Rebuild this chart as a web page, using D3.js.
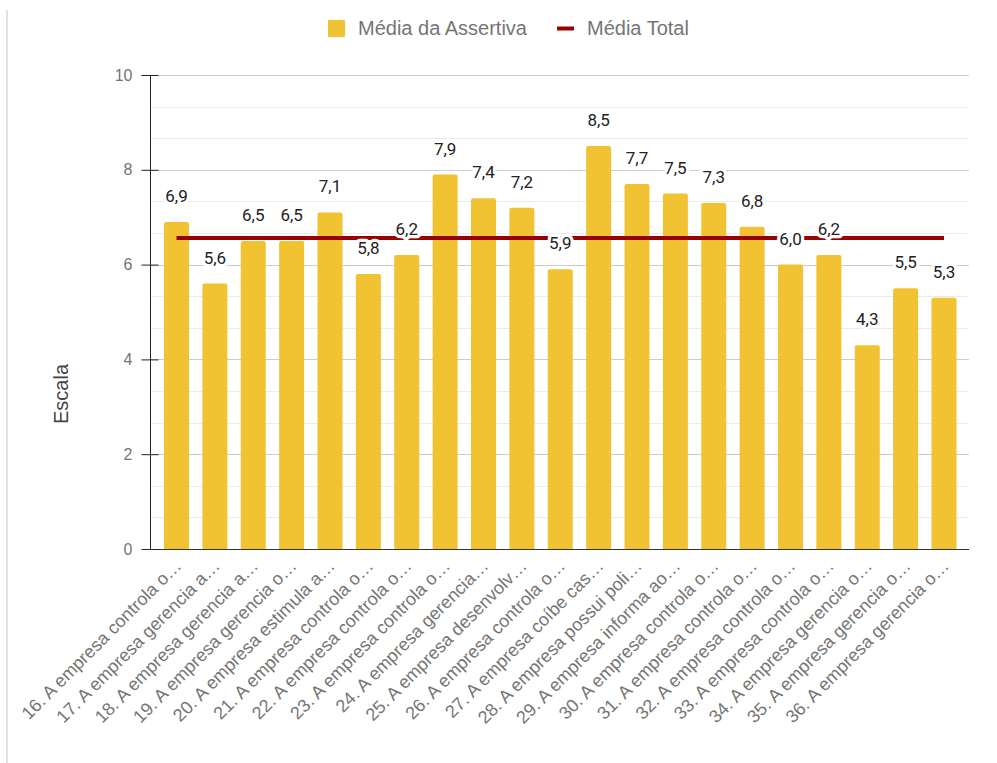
<!DOCTYPE html>
<html>
<head>
<meta charset="utf-8">
<script src="https://cdn.jsdelivr.net/npm/d3@7"></script>
<style>
  html, body { margin: 0; padding: 0; background: #fff; }
  svg { display: block; }
</style>
</head>
<body>
<svg id="chart" width="997" height="763"></svg>
<script>
// Assertivas (rótulos truncados como aparecem no eixo)
const categorias = [
  "16. A empresa controla o…",
  "17. A empresa gerencia a…",
  "18. A empresa gerencia a…",
  "19. A empresa gerencia o…",
  "20. A empresa estimula a…",
  "21. A empresa controla o…",
  "22. A empresa controla o…",
  "23. A empresa controla o…",
  "24. A empresa gerencia…",
  "25. A empresa desenvolv…",
  "26. A empresa controla o…",
  "27. A empresa coíbe cas…",
  "28. A empresa possui poli…",
  "29. A empresa informa ao…",
  "30. A empresa controla o…",
  "31. A empresa controla o…",
  "32. A empresa controla o…",
  "33. A empresa controla o…",
  "34. A empresa gerencia o…",
  "35. A empresa gerencia o…",
  "36. A empresa gerencia o…"
];

// Média de cada assertiva
const mediaAssertiva = [6.9, 5.6, 6.5, 6.5, 7.1, 5.8, 6.2, 7.9, 7.4, 7.2, 5.9,
                        8.5, 7.7, 7.5, 7.3, 6.8, 6.0, 6.2, 4.3, 5.5, 5.3];

// Média total (série constante)
const mediaTotal = [6.56, 6.56, 6.56, 6.56, 6.56, 6.56, 6.56, 6.56, 6.56, 6.56, 6.56,
                    6.56, 6.56, 6.56, 6.56, 6.56, 6.56, 6.56, 6.56, 6.56, 6.56];

const yTicks = [0, 2, 4, 6, 8, 10];
const legenda = ["Média da Assertiva", "Média Total"];
const tituloY = "Escala";

const corBarra = "#f1c232";
const corLinha = "#990000";
const fonteEixo = "'Liberation Sans', Arial, sans-serif";
const fonteValor = "Roboto, 'Liberation Sans', Arial, sans-serif";

const svg = d3.select("#chart");

// moldura à esquerda
svg.append("rect").attr("x", 6).attr("y", 10).attr("width", 2).attr("height", 753).attr("fill", "#e2e2e2");

const plot = { left: 150, right: 969, top: 75, bottom: 549 };

const y = d3.scaleLinear().domain([0, 10]).range([plot.bottom, plot.top]);
const x = d3.scaleBand().domain(categorias).range([157.3, 963.2]).paddingInner(0.349).paddingOuter(0.175);

// linhas de grade: secundárias (terços) e principais
const grid = svg.append("g");
const secundarias = [];
yTicks.slice(0, -1).forEach(t => { secundarias.push(t + 2 / 3, t + 4 / 3); });
grid.selectAll("line.sec").data(secundarias).join("line")
  .attr("class", "sec")
  .attr("x1", plot.left).attr("x2", plot.right)
  .attr("y1", d => Math.round(y(d)) + 0.5).attr("y2", d => Math.round(y(d)) + 0.5)
  .attr("stroke", "#ebebeb").attr("stroke-width", 1);
grid.selectAll("line.pri").data(yTicks.filter(t => t > 0)).join("line")
  .attr("class", "pri")
  .attr("x1", plot.left).attr("x2", plot.right)
  .attr("y1", d => Math.round(y(d)) + 0.5).attr("y2", d => Math.round(y(d)) + 0.5)
  .attr("stroke", "#cccccc").attr("stroke-width", 1);

// barras com cantos superiores arredondados
const r = 2;
svg.append("g").selectAll("path").data(mediaAssertiva).join("path")
  .attr("d", (v, i) => {
    const x0 = x(categorias[i]), w = x.bandwidth(), y0 = y(v), yb = y(0);
    return `M${x0},${yb}V${y0 + r}Q${x0},${y0} ${x0 + r},${y0}H${x0 + w - r}Q${x0 + w},${y0} ${x0 + w},${y0 + r}V${yb}Z`;
  })
  .attr("fill", corBarra);

// linha de base
svg.append("line")
  .attr("x1", plot.left).attr("x2", plot.right)
  .attr("y1", plot.bottom + 0.5).attr("y2", plot.bottom + 0.5)
  .attr("stroke", "#333").attr("stroke-width", 1.2);

// eixo Y
const eixoY = svg.append("g").attr("transform", `translate(${plot.left + 0.5},0)`)
  .call(d3.axisLeft(y).tickValues(yTicks).tickSize(9).tickSizeOuter(0).tickPadding(9));
eixoY.select(".domain").attr("stroke", "#222").attr("d", `M0,${plot.top}V${plot.bottom}`);
eixoY.selectAll(".tick line").attr("x1", 8).attr("x2", -9).attr("stroke", "#222");
eixoY.selectAll(".tick text")
  .attr("font-family", fonteEixo).attr("font-size", 16).attr("fill", "#757575");

// linha da média total
const linha = d3.line()
  .x((v, i) => x(categorias[i]) + x.bandwidth() / 2)
  .y(v => y(v));
svg.append("path").datum(mediaTotal)
  .attr("d", linha)
  .attr("fill", "none").attr("stroke", corLinha).attr("stroke-width", 4);

// rótulos de valor (com halo branco)
const fmt = v => d3.format(".1f")(v).replace(".", ",");
svg.append("g").selectAll("text").data(mediaAssertiva).join("text")
  .attr("x", (v, i) => x(categorias[i]) + x.bandwidth() / 2)
  .attr("y", v => y(v) - 20)
  .attr("text-anchor", "middle")
  .attr("font-family", fonteValor).attr("font-size", 17)
  .attr("fill", "#222")
  .attr("stroke", "#fff").attr("stroke-width", 6.5).attr("paint-order", "stroke")
  .attr("stroke-linejoin", "round")
  .text(fmt);

// rótulos do eixo X
svg.append("g").selectAll("text").data(categorias).join("text")
  .attr("transform", d => `translate(${x(d) + x.bandwidth() / 2 + 6},${plot.bottom + 18}) rotate(-45)`)
  .attr("text-anchor", "end")
  .attr("font-family", fonteEixo).attr("font-size", 18).attr("fill", "#757575")
  .text(d => d);

// título do eixo Y
svg.append("text")
  .attr("transform", `translate(68,394) rotate(-90)`)
  .attr("text-anchor", "middle")
  .attr("font-family", fonteEixo).attr("font-size", 20).attr("fill", "#444")
  .text(tituloY);

// legenda
const leg = svg.append("g");
leg.append("rect").attr("x", 328).attr("y", 20).attr("width", 17).attr("height", 17).attr("rx", 1)
  .attr("fill", corBarra);
leg.append("text").attr("x", 358).attr("y", 35)
  .attr("font-family", fonteEixo).attr("font-size", 20).attr("fill", "#757575")
  .text(legenda[0]);
leg.append("line").attr("x1", 557).attr("x2", 574).attr("y1", 28.5).attr("y2", 28.5)
  .attr("stroke", corLinha).attr("stroke-width", 4);
leg.append("text").attr("x", 587).attr("y", 35)
  .attr("font-family", fonteEixo).attr("font-size", 20).attr("fill", "#757575")
  .text(legenda[1]);
</script>
</body>
</html>
